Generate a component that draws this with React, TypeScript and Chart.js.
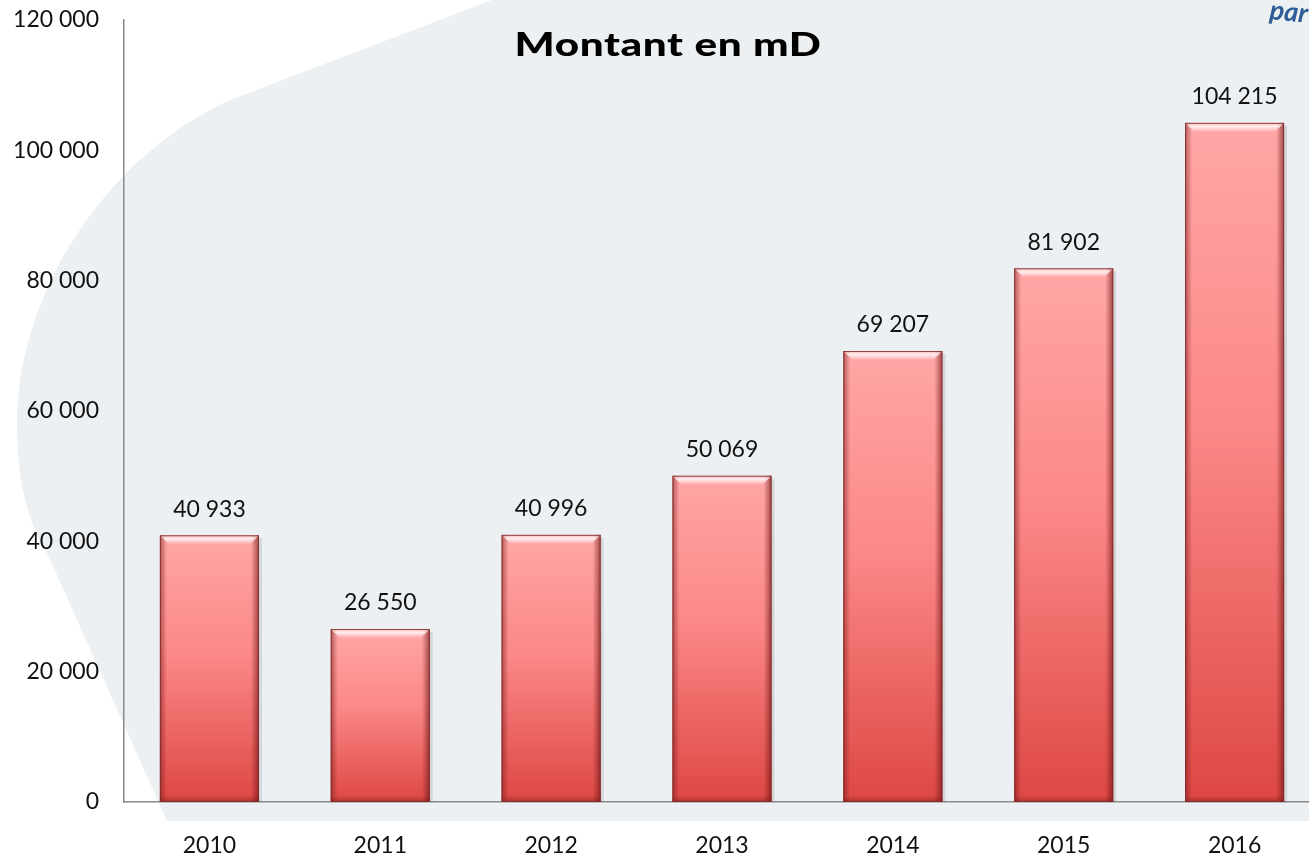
import React, { useEffect, useRef } from "react";
import { Chart, registerables } from "chart.js";

Chart.register(...registerables);

const categories = ["2010", "2011", "2012", "2013", "2014", "2015", "2016"];
const montants = [40933, 26550, 40996, 50069, 69207, 81902, 104215];
const yTicks = [0, 20000, 40000, 60000, 80000, 100000, 120000];
const titleText = "Montant en mD";
const cornerText = "par";

const FONT = "Lato, 'Open Sans', sans-serif";
const fmt = (v: number) => String(Math.round(v)).replace(/\B(?=(\d{3})+(?!\d))/g, " ");

const bgPlugin = {
  id: "bgShape",
  beforeDraw(chart: any) {
    const { ctx, width } = chart;
    ctx.save();
    ctx.fillStyle = "#EDF0F2";
    ctx.beginPath();
    ctx.moveTo(492, 0);
    ctx.lineTo(230, 100);
    ctx.bezierCurveTo(100, 160, 15, 300, 17, 430);
    ctx.bezierCurveTo(18, 490, 30, 525, 48, 555);
    ctx.lineTo(167, 821);
    ctx.lineTo(width, 821);
    ctx.lineTo(width, 0);
    ctx.closePath();
    ctx.fill();
    ctx.restore();
  },
};

const barDeco = {
  id: "barDeco",
  afterDatasetsDraw(chart: any) {
    const ctx = chart.ctx;
    const meta = chart.getDatasetMeta(0);
    ctx.save();
    meta.data.forEach((bar: any, i: number) => {
      const { x, y, base, width } = bar.getProps(["x", "y", "base", "width"], true);
      const l = x - width / 2;
      const r = x + width / 2;
      const t = y;
      const b = base;
      const h = b - t;
      ctx.fillStyle = "rgba(0,0,0,0.10)";
      ctx.fillRect(r, t + 3, 3, h - 3);
      let g = ctx.createLinearGradient(l, 0, l + 7, 0);
      g.addColorStop(0, "rgba(120,25,25,0.55)");
      g.addColorStop(1, "rgba(120,25,25,0)");
      ctx.fillStyle = g;
      ctx.fillRect(l, t, 7, h);
      g = ctx.createLinearGradient(r, 0, r - 8, 0);
      g.addColorStop(0, "rgba(110,20,20,0.65)");
      g.addColorStop(1, "rgba(110,20,20,0)");
      ctx.fillStyle = g;
      ctx.fillRect(r - 8, t, 8, h);
      g = ctx.createLinearGradient(0, b, 0, b - 6);
      g.addColorStop(0, "rgba(110,20,20,0.45)");
      g.addColorStop(1, "rgba(110,20,20,0)");
      ctx.fillStyle = g;
      ctx.fillRect(l, b - 6, width, 6);
      const bv = 9;
      ctx.beginPath();
      ctx.moveTo(l, t);
      ctx.lineTo(r, t);
      ctx.lineTo(r - bv, t + bv);
      ctx.lineTo(l + bv, t + bv);
      ctx.closePath();
      g = ctx.createLinearGradient(0, t, 0, t + bv);
      g.addColorStop(0, "rgba(255,255,255,0.25)");
      g.addColorStop(0.4, "rgba(255,255,255,0.8)");
      g.addColorStop(1, "rgba(255,255,255,0.05)");
      ctx.fillStyle = g;
      ctx.fill();
      ctx.strokeStyle = "rgba(125,45,45,0.85)";
      ctx.lineWidth = 1;
      ctx.strokeRect(l + 0.5, t + 0.5, width - 1, h - 1);
      ctx.fillStyle = "#111";
      ctx.font = `23px ${FONT}`;
      ctx.textAlign = "center";
      ctx.textBaseline = "middle";
      ctx.fillText(fmt(montants[i]), x, t - 26);
    });
    ctx.restore();
  },
  afterDraw(chart: any) {
    const ctx = chart.ctx;
    ctx.save();
    ctx.fillStyle = "#000";
    ctx.font = `900 33px ${FONT}`;
    ctx.textAlign = "center";
    ctx.textBaseline = "middle";
    ctx.translate(668, 45);
    ctx.scale(1.28, 1);
    try {
      (ctx as any).letterSpacing = "0.5px";
    } catch (e) {}
    ctx.fillText(titleText, 0, 0);
    ctx.restore();

    ctx.save();
    ctx.translate(1269, 19);
    ctx.rotate(0.1);
    ctx.fillStyle = "#2F5B96";
    ctx.font = `italic bold 27px ${FONT}`;
    ctx.textAlign = "left";
    ctx.textBaseline = "alphabetic";
    ctx.fillText(cornerText, 0, 0);
    ctx.restore();
  },
};

export default function App() {
  const ref = useRef<HTMLCanvasElement | null>(null);
  useEffect(() => {
    if (!ref.current) return;
    const chart = new Chart(ref.current, {
      type: "bar",
      data: {
        labels: categories,
        datasets: [
          {
            label: titleText,
            data: montants,
            categoryPercentage: 1,
            barPercentage: 0.58,
            borderWidth: 0,
            backgroundColor: (c: any) => {
              const ch = c.chart;
              const ys = ch.scales?.y;
              if (!ys || c.raw == null) return "#F77";
              const top = ys.getPixelForValue(c.raw);
              const bot = ys.getPixelForValue(0);
              if (!isFinite(top) || !isFinite(bot) || top === bot) return "#F77";
              const g = ch.ctx.createLinearGradient(0, top, 0, bot);
              g.addColorStop(0, "#FFA6A6");
              g.addColorStop(0.45, "#FB8887");
              g.addColorStop(1, "#DD4744");
              return g;
            },
          },
        ],
      },
      options: {
        responsive: false,
        animation: false,
        layout: { padding: { left: 0, right: 10, top: 20, bottom: 0 } },
        plugins: {
          legend: { display: false },
          title: { display: false },
          tooltip: { enabled: false },
        },
        scales: {
          x: {
            grid: { display: false, drawTicks: false },
            border: { display: true, color: "#8A8A8A", width: 1.5 },
            ticks: { color: "#111", font: { family: FONT, size: 23 }, padding: 30 },
            afterFit: (s: any) => {
              s.height = 57;
              s.paddingLeft = 0;
              s.paddingRight = 0;
            },
          },
          y: {
            min: 0,
            max: 120000,
            grid: { display: false, drawTicks: false },
            border: { display: true, color: "#8A8A8A", width: 1.5 },
            ticks: {
              color: "#111",
              font: { family: FONT, size: 23 },
              padding: 25,
              callback: (v: any) => fmt(Number(v)),
            },
            afterBuildTicks: (s: any) => {
              s.ticks = yTicks.map((v) => ({ value: v }));
            },
            afterFit: (s: any) => {
              s.width = 124;
              s.paddingTop = 0;
              s.paddingBottom = 0;
            },
          },
        },
      },
      plugins: [bgPlugin, barDeco],
    });
    return () => chart.destroy();
  }, []);
  return (
    <div
      style={{
        position: "fixed",
        left: 0,
        top: 0,
        width: 1309,
        height: 859,
        overflow: "hidden",
        background: "#fff",
      }}
    >
      <canvas ref={ref} width={1330} height={859} style={{ display: "block" }} />
    </div>
  );
}
